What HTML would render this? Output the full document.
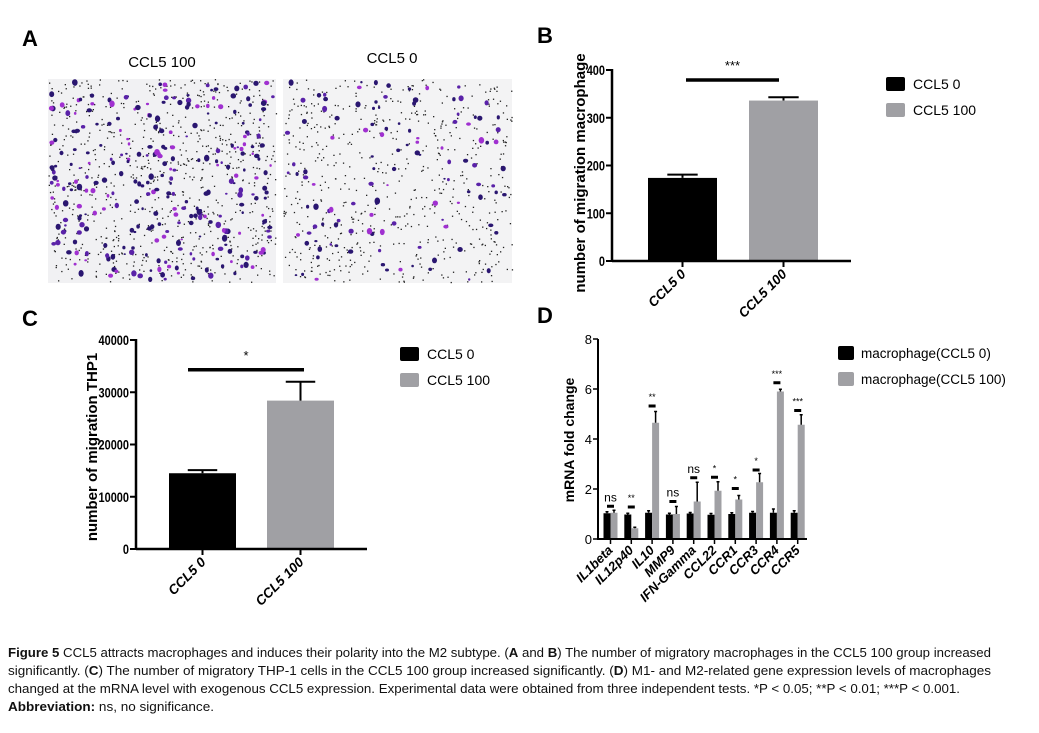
<!DOCTYPE html>
<html><head><meta charset="utf-8">
<style>
html,body{margin:0;padding:0;background:#fff;}
body{width:1039px;height:733px;overflow:hidden;position:relative;font-family:"Liberation Sans",sans-serif;}
svg{position:absolute;left:0;top:0;}
</style></head>
<body>
<svg id="fig" width="1039" height="733" viewBox="0 0 1039 733">
  <g>
    <text x="22" y="46" font-size="22" font-weight="bold">A</text>
    <text x="162" y="67" font-size="15" text-anchor="middle">CCL5 100</text>
    <text x="392" y="63" font-size="15" text-anchor="middle">CCL5 0</text>
    <rect x="48" y="79" width="228" height="204" fill="#f1f1f3"/>
    <rect x="283" y="79" width="229" height="204" fill="#f3f3f4"/>
    <g id="cellsL"></g><g id="cellsR"></g>
  </g>
  <g id="panelB">
    <text x="537" y="43" font-size="22" font-weight="bold">B</text>
  </g>
  <g id="panelC">
    <text x="22" y="326" font-size="22" font-weight="bold">C</text>
  </g>
  <g id="panelD">
    <text x="537" y="323" font-size="22" font-weight="bold">D</text>
  </g>
  <g font-size="12.5" fill="#111" style="font-family:'Liberation Sans Narrow','Liberation Sans',sans-serif">
    <text x="8" y="657" textLength="983" lengthAdjust="spacingAndGlyphs"><tspan font-weight="bold">Figure 5</tspan> CCL5 attracts macrophages and induces their polarity into the M2 subtype. (<tspan font-weight="bold">A</tspan> and <tspan font-weight="bold">B</tspan>) The number of migratory macrophages in the CCL5 100 group increased</text>
    <text x="8" y="675" textLength="983" lengthAdjust="spacingAndGlyphs">significantly. (<tspan font-weight="bold">C</tspan>) The number of migratory THP-1 cells in the CCL5 100 group increased significantly. (<tspan font-weight="bold">D</tspan>) M1- and M2-related gene expression levels of macrophages</text>
    <text x="8" y="693" textLength="952" lengthAdjust="spacingAndGlyphs">changed at the mRNA level with exogenous CCL5 expression. Experimental data were obtained from three independent tests. *P &lt; 0.05; **P &lt; 0.01; ***P &lt; 0.001.</text>
    <text x="8" y="711" textLength="206" lengthAdjust="spacingAndGlyphs"><tspan font-weight="bold">Abbreviation:</tspan> ns, no significance.</text>
  </g>
</svg>
<script>
// ---- Panel B data ----
const bCategories = ["CCL5 0", "CCL5 100"];
const bValues = [174, 336];
const bErrors = [7, 7];
const bTicks = [0, 100, 200, 300, 400];
const bSig = ["***"];
const bSigLevel = [379];
// ---- Panel C data ----
const cCategories = ["CCL5 0", "CCL5 100"];
const cValues = [14500, 28400];
const cErrors = [600, 3600];
const cTicks = [0, 10000, 20000, 30000, 40000];
const cSig = ["*"];
const cSigLevel = [34300];
// ---- Panel D data ----
const dGenes = ["IL1beta","IL12p40","IL10","MMP9","IFN-Gamma","CCL22","CCR1","CCR3","CCR4","CCR5"];
const dCtrl = [1.03, 0.98, 1.05, 0.98, 1.02, 0.97, 1.0, 1.05, 1.05, 1.05];
const dCtrlErr = [0.06, 0.05, 0.08, 0.05, 0.04, 0.05, 0.05, 0.05, 0.15, 0.08];
const dTreat = [1.05, 0.43, 4.65, 1.0, 1.5, 1.93, 1.58, 2.27, 5.9, 4.57];
const dTreatErr = [0.1, 0.04, 0.45, 0.3, 0.77, 0.36, 0.16, 0.35, 0.09, 0.4];
const dSig = ["ns","**","**","ns","ns","*","*","*","***","***"];
const dSigLevel = [1.31, 1.28, 5.32, 1.5, 2.45, 2.47, 2.02, 2.76, 6.25, 5.14];
const dTicks = [0, 2, 4, 6, 8];

const NS = "http://www.w3.org/2000/svg";
function mk(parent, tag, attrs, text) {
  const e = document.createElementNS(NS, tag);
  for (const k in attrs) e.setAttribute(k, attrs[k]);
  if (text !== undefined) e.textContent = text;
  parent.appendChild(e);
  return e;
}

// cell micrograph texture (decorative)
let seed = 12345;
function rnd(){ seed = (seed*1103515245 + 12345) % 2147483648; return seed/2147483648; }
function cells(gid, x0, w, nBig, nSmall) {
  const g = document.getElementById(gid);
  for (let i=0;i<nSmall;i++){
    mk(g,'rect',{x:(x0+rnd()*w).toFixed(1), y:(79+rnd()*203).toFixed(1), width:1.3, height:1.3, fill:'#222'});
  }
  for (let i=0;i<nBig;i++){
    const r = 1.2+rnd()*1.6;
    const q = rnd();
    const col = q<0.55 ? '#2a1670' : (q<0.8?'#5a22a8':'#a030d0');
    mk(g,'ellipse',{cx:(x0+3+rnd()*(w-6)).toFixed(1), cy:(82+rnd()*198).toFixed(1), rx:r.toFixed(1), ry:(r*(0.7+rnd()*0.6)).toFixed(1), fill:col});
  }
}
cells('cellsL', 48, 228, 300, 750);
cells('cellsR', 283, 229, 120, 600);

function simplePanel(gid, cfg) {
  const g = document.getElementById(gid);
  const {ax, y0, yTop, xEnd, maxV, cats, vals, errs, ticks, barL, barW, sig, sigLevel, sigX1, sigX2, legX, legY, ylabel, ylx, yly} = cfg;
  const ys = v => y0 - (v / maxV) * (y0 - yTop);
  const colors = ['#000', '#a0a0a4'];
  cats.forEach((c, i) => {
    const top = ys(vals[i]);
    const b = mk(g,'rect',{x:barL[i], y:top, width:barW, height:y0-top, fill:colors[i]});
    
    
    const cx = barL[i] + barW/2, et = ys(vals[i] + errs[i]);
    const e = mk(g,'path',{d:`M${cx},${top} V${et} M${cx-barW*0.22},${et} H${cx+barW*0.22}`, stroke:'#000', 'stroke-width':2, fill:'none'});
    
    
    mk(g,'line',{x1:cx, y1:y0, x2:cx, y2:y0+6, stroke:'#000','stroke-width':2});
    const t = mk(g,'text',{x:cx+4, y:y0+14, 'font-size':13.5, 'font-weight':'bold','font-style':'italic','text-anchor':'end', transform:`rotate(-45 ${cx+4} ${y0+14})`}, c);
    
    
  });
  mk(g,'line',{x1:ax, y1:y0, x2:xEnd, y2:y0, stroke:'#000','stroke-width':2.5});
  mk(g,'line',{x1:ax, y1:y0+1, x2:ax, y2:yTop-1, stroke:'#000','stroke-width':2.5});
  ticks.forEach(tv => {
    const y = ys(tv);
    const s = String(tv);
    mk(g,'line',{x1:ax-6, y1:y, x2:ax, y2:y, stroke:'#000','stroke-width':2});
    const t = mk(g,'text',{x:ax-7, y:y+5, 'font-size':14,'font-weight':'bold','text-anchor':'end', textLength:(s.length*6.1).toFixed(1), lengthAdjust:'spacingAndGlyphs'}, s);
    
    
  });
  const sy = ys(sigLevel[0]);
  mk(g,'line',{x1:sigX1, y1:sy, x2:sigX2, y2:sy, stroke:'#000','stroke-width':3.5});
  const st = mk(g,'text',{x:(sigX1+sigX2)/2, y:sy-10, 'font-size':13,'text-anchor':'middle'}, sig[0]);
  
  
  const yl = mk(g,'text',{x:ylx, y:yly, 'font-size':15,'font-weight':'bold','text-anchor':'middle', transform:`rotate(-90 ${ylx} ${yly})`, 'xml:space':'preserve'}, ylabel);
  
  
  cats.forEach((c, i) => {
    const ly = legY + i*26;
    const r = mk(g,'rect',{x:legX, y:ly-7, width:19, height:14, rx:2, fill:colors[i]});
    
    
    const lt = mk(g,'text',{x:legX+27, y:ly+5, 'font-size':14}, c);
    
    
  });
}

simplePanel('panelB', {ax:612, y0:261, yTop:70, xEnd:851, maxV:400, cats:bCategories, vals:bValues, errs:bErrors, ticks:bTicks,
  barL:[648, 749], barW:69, sig:bSig, sigLevel:bSigLevel, sigX1:686, sigX2:779, legX:886, legY:84,
  ylabel:"number of  migration macrophage", ylx:585, yly:173});
simplePanel('panelC', {ax:136, y0:549, yTop:340, xEnd:367, maxV:40000, cats:cCategories, vals:cValues, errs:cErrors, ticks:cTicks,
  barL:[169, 267], barW:67, sig:cSig, sigLevel:cSigLevel, sigX1:188, sigX2:304, legX:400, legY:354,
  ylabel:"number of  migration THP1", ylx:97, yly:447});

// Panel D
(function(){
  const g = document.getElementById('panelD');
  const ax = 598, y0 = 539, yTop = 339, xEnd = 807, maxV = 8;
  const ys = v => y0 - (v / maxV) * (y0 - yTop);
  const x0 = 610.5, pitch = 20.8, bw = 7;
  dGenes.forEach((gene, i) => {
    const cx = x0 + i*pitch;
    const tb = ys(dCtrl[i]), tt = ys(dTreat[i]);
    const b1 = mk(g,'rect',{x:cx-bw, y:tb, width:bw, height:y0-tb, fill:'#000'});
    
    
    const b2 = mk(g,'rect',{x:cx, y:tt, width:bw, height:y0-tt, fill:'#a0a0a4'});
    
    
    const e1 = ys(dCtrl[i]+dCtrlErr[i]), e2 = ys(dTreat[i]+dTreatErr[i]);
    const c1 = cx-bw/2, c2 = cx+bw/2;
    mk(g,'path',{d:`M${c1},${tb} V${e1} M${c1-1.5},${e1} H${c1+1.5} M${c2},${tt} V${e2} M${c2-1.5},${e2} H${c2+1.5}`, stroke:'#000','stroke-width':1.5, fill:'none'});
    mk(g,'line',{x1:cx, y1:y0, x2:cx, y2:y0+5, stroke:'#000','stroke-width':1.5});
    const sy = ys(dSigLevel[i]);
    mk(g,'line',{x1:cx-3.5, y1:sy, x2:cx+3.5, y2:sy, stroke:'#000','stroke-width':3});
    const isNs = dSig[i] === 'ns';
    const st = mk(g,'text',{x:cx, y:sy-(isNs?5:6), 'font-size':isNs?12:9,'text-anchor':'middle'}, dSig[i]);
    
    
    const lx = cx+3, ly = y0+12;
    const t = mk(g,'text',{x:lx, y:ly, 'font-size':13,'font-weight':'bold','font-style':'italic','text-anchor':'end', transform:`rotate(-45 ${lx} ${ly})`}, gene);
    
    
  });
  mk(g,'line',{x1:ax, y1:y0, x2:xEnd, y2:y0, stroke:'#000','stroke-width':2});
  mk(g,'line',{x1:ax, y1:y0+1, x2:ax, y2:yTop, stroke:'#000','stroke-width':2});
  dTicks.forEach(tv => {
    const y = ys(tv);
    mk(g,'line',{x1:ax-5, y1:y, x2:ax, y2:y, stroke:'#000','stroke-width':1.5});
    const t = mk(g,'text',{x:ax-6, y:y+5, 'font-size':13,'text-anchor':'end'}, String(tv));
    
    
  });
  const yl = mk(g,'text',{x:574, y:440, 'font-size':14,'font-weight':'bold','text-anchor':'middle', transform:'rotate(-90 574 440)'}, 'mRNA fold change');
  
  
  const legNames = ['macrophage(CCL5 0)', 'macrophage(CCL5 100)'];
  const legCols = ['#000', '#a0a0a4'];
  legNames.forEach((n, i) => {
    const ly = 353 + i*26;
    const r = mk(g,'rect',{x:838, y:ly-7, width:16, height:14, rx:2, fill:legCols[i]});
    
    
    const lt = mk(g,'text',{x:861, y:ly+5, 'font-size':13.5}, n);
    
    
  });
})();
</script>
</body></html>
